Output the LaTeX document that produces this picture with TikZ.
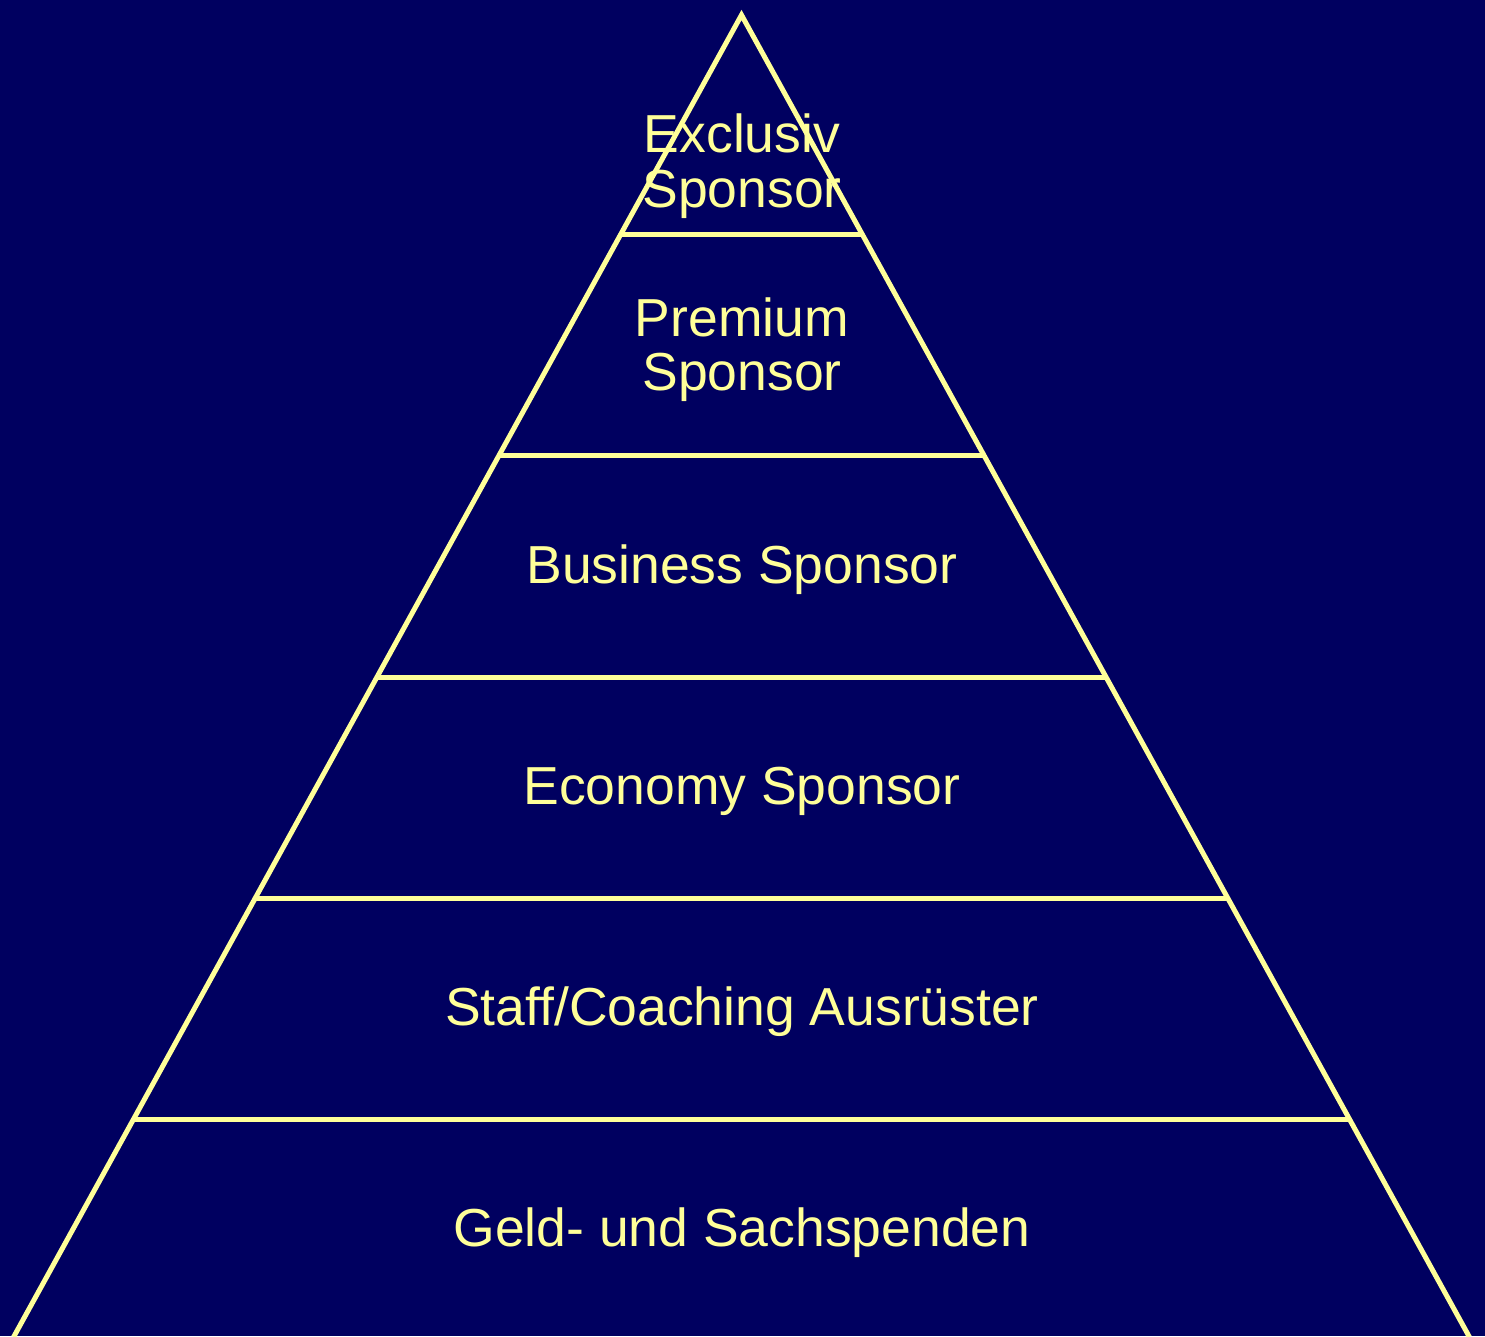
\documentclass[tikz,border=0pt]{standalone}
\usepackage{fontspec}
\setmainfont{Liberation Sans}
\definecolor{bgnavy}{HTML}{000060}
\definecolor{pale}{HTML}{FFFF99}
\begin{document}
\begin{tikzpicture}[x=1pt,y=-1pt,
  edge/.style={draw=pale,line width=5pt},
  tier/.style={text=pale,font=\fontsize{53.5}{55}\selectfont,inner sep=0pt,align=center}]
\fill[bgnavy] (0,0) rectangle (1485,1336);
\useasboundingbox (0,0) rectangle (1485,1336);
% outline
\coordinate (apex) at (741.5,15);
\coordinate (bl) at (13.6,1337);
\coordinate (br) at (1469.4,1337);
\draw[edge,line join=miter] (bl) -- (apex) -- (br);
% dividers
\coordinate (l1) at (620,234);   \coordinate (r1) at (863,234);
\coordinate (l2) at (498.4,455); \coordinate (r2) at (984.6,455);
\coordinate (l3) at (376,677);   \coordinate (r3) at (1107,677);
\coordinate (l4) at (254.6,898); \coordinate (r4) at (1228.4,898);
\coordinate (l5) at (133,1119);  \coordinate (r5) at (1350,1119);
\foreach \i in {1,...,5}{\draw[edge] (l\i) -- (r\i);}
% labels
\node[tier,anchor=base] (t1a) at (742,152) {Exclusiv};
\node[tier,anchor=base] (t1b) at (742,207) {Sponsor};
\node[tier,anchor=base] (t2a) at (742,336) {Premium};
\node[tier,anchor=base] (t2b) at (742,390) {Sponsor};
\node[tier,anchor=base] (t3) at (742,583) {Business Sponsor};
\node[tier,anchor=base] (t4) at (742,804) {Economy Sponsor};
\node[tier,anchor=base] (t5) at (742,1025) {Staff/Coaching Ausrüster};
\node[tier,anchor=base] (t6) at (742,1246) {Geld- und Sachspenden};
\end{tikzpicture}
\end{document}
